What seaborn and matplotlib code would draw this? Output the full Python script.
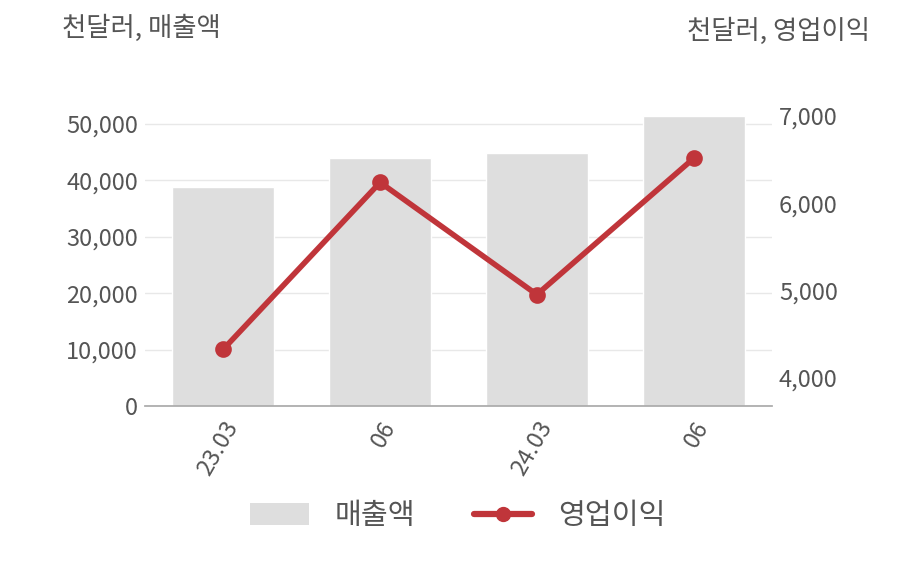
import matplotlib
matplotlib.use("Agg")
import matplotlib.pyplot as plt
import seaborn as sns
import pandas as pd
from matplotlib.patches import Patch
from matplotlib.lines import Line2D

periods = ["2023.03", "2023.06", "2024.03", "2024.06"]
tick_labels = ["23.03", "06", "24.03", "06"]
revenue = [38900, 44000, 44900, 51400]
op_income = [4330, 6240, 4955, 6515]

sns.set_theme(style="white")
plt.rcParams['font.family'] = ['Noto Sans CJK KR', 'DejaVu Sans']

TXT = "#555555"
BAR = "#dedede"
RED = "#c0353a"

df = pd.DataFrame({"period": periods, "revenue": revenue, "op": op_income})

fig = plt.figure(figsize=(9.08, 5.8), dpi=100)
ax = fig.add_axes([145/908, 1-406/580, (772-145)/908, (406-95)/580])

sns.barplot(data=df, x="period", y="revenue", color=BAR, width=0.65,
            saturation=1, ax=ax, zorder=2)
ax.set_xlim(-0.5, 3.5)
ax.set_ylim(0, 55150)
ax.set_yticks([0, 10000, 20000, 30000, 40000, 50000])
ax.set_yticklabels([f"{v:,}" for v in [0, 10000, 20000, 30000, 40000, 50000]])
ax.grid(axis="y", color="#e8e8e8", linewidth=1, zorder=0)
ax.set_axisbelow(True)
ax.set_xlabel("")
ax.set_ylabel("")
ax.set_xticks(range(len(tick_labels)))
ax.set_xticklabels(tick_labels, rotation=60, ha="right", rotation_mode="anchor")
for s in ["top", "right", "left"]:
    ax.spines[s].set_visible(False)
ax.spines["bottom"].set_color("#aaaaaa")
ax.tick_params(axis="both", length=0, labelsize=17, colors=TXT, pad=5)
ax.tick_params(axis="x", pad=8)

ax2 = ax.twinx()
sns.pointplot(data=df, x="period", y="op", color=RED, markers="o", ax=ax2,
              linewidth=4, markersize=9, errorbar=None)
ax2.set_xlim(-0.5, 3.5)
ax2.set_ylim(3679, 7241)
ax2.set_yticks([4000, 5000, 6000, 7000])
ax2.set_yticklabels([f"{v:,}" for v in [4000, 5000, 6000, 7000]])
ax2.set_ylabel("")
ax2.set_xlabel("")
for s in ["top", "right", "left", "bottom"]:
    ax2.spines[s].set_visible(False)
ax2.tick_params(axis="y", length=0, labelsize=17, colors=TXT, pad=5)

fig.text(62/908, 1-28/580, "천달러, 매출액", fontsize=19, color=TXT, ha="left", va="center")
fig.text(870/908, 1-31/580, "천달러, 영업이익", fontsize=19, color=TXT, ha="right", va="center")

handles = [Patch(facecolor=BAR, edgecolor="none"),
           Line2D([0], [0], color=RED, linewidth=4.5, marker="o", markersize=10)]
fig.legend(handles, ["매출액", "영업이익"], loc="center", bbox_to_anchor=(458/908, 1-516/580),
           ncol=2, frameon=False, fontsize=21, labelcolor=TXT, handlelength=2.0,
           handleheight=0.75, columnspacing=2.0, handletextpad=0.9)

fig.savefig("out.png", dpi=100)
